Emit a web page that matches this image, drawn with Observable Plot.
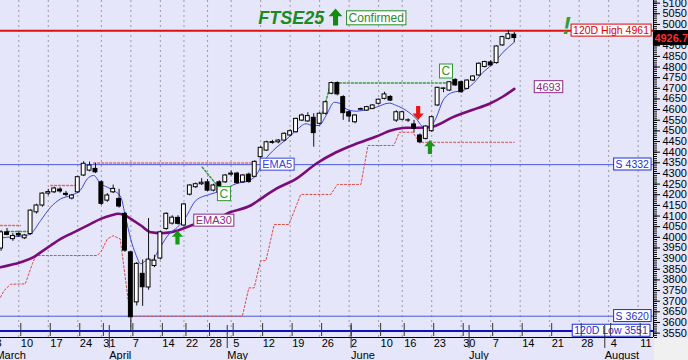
<!DOCTYPE html>
<html><head><meta charset="utf-8">
<script src="https://cdn.jsdelivr.net/npm/d3@7"></script>
<script src="https://cdn.jsdelivr.net/npm/@observablehq/plot@0.6"></script>
<style>
body{margin:0;background:#fff;}
#chart svg{display:block}
</style></head><body><div id="chart"></div>
<script>
// ---- data (day index, Mar 10 = 0) ----
const days = d3.range(-3, 85);
const opens = [
 3938,4014,3982,4006,3986,4006,4108,4140,4196,4202,
 4215,4195,4173,4202,4281,4304,4312,4249,4163,4202,
 4171,4101,3920,3685,3819,3755,3856,3891,4030,4055,
 4082,4046,4191,4226,4240,4249,4210,4249,4249,4285,
 4290,4249,4285,4275,4367,4398,4434,4437,4445,4469,
 4484,4539,4535,4552,4524,4571,4665,4715,4649,4578,
 4531,4590,4586,4594,4618,4641,4650,4539,4543,4539,
 4521,4469,4453,4489,4610,4688,4680,4730,4719,4688,
 4727,4751,4791,4812,4809,4892,4923,4942];
const highs = [
 4022,4032,4008,4016,4004,4120,4146,4200,4216,4226,
 4224,4206,4192,4278,4346,4344,4338,4256,4196,4236,
 4216,4108,3924,3872,3884,4079,3906,4020,4106,4092,
 4092,4150,4238,4246,4266,4262,4240,4256,4286,4302,
 4296,4286,4292,4350,4416,4442,4446,4450,4481,4496,
 4550,4570,4576,4571,4576,4630,4720,4721,4656,4586,
 4566,4598,4606,4614,4640,4672,4656,4585,4582,4548,
 4540,4476,4515,4560,4695,4692,4722,4735,4724,4730,
 4750,4810,4818,4820,4890,4935,4962,4952];
const lows = [
 3925,3998,3972,3990,3980,4000,4100,4132,4186,4196,
 4198,4180,4166,4196,4276,4298,4290,4140,4155,4196,
 4128,3920,3551,3668,3666,3742,3848,3884,4024,4048,
 4048,4040,4185,4220,4234,4205,4204,4196,4244,4278,
 4240,4244,4245,4270,4360,4394,4428,4430,4440,4464,
 4480,4534,4530,4414,4518,4565,4660,4655,4540,4531,
 4524,4586,4582,4590,4612,4636,4628,4530,4538,4530,
 4480,4430,4448,4484,4605,4670,4676,4700,4668,4684,
 4722,4746,4786,4794,4804,4888,4918,4905];
const closes = [
 4014,4002,3997,3999,3999,4116,4140,4196,4203,4220,
 4206,4190,4187,4273,4336,4328,4296,4148,4187,4218,
 4135,3928,3615,3866,3756,3886,3881,4014,4101,4083,
 4054,4145,4234,4240,4247,4210,4234,4202,4281,4290,
 4245,4281,4250,4345,4411,4437,4438,4445,4477,4489,
 4547,4563,4560,4480,4571,4625,4715,4662,4574,4558,
 4563,4593,4602,4610,4637,4662,4633,4578,4578,4540,
 4500,4437,4511,4555,4693,4690,4719,4704,4672,4727,
 4746,4806,4814,4798,4887,4931,4944,4926.72];

const ema5Idx = [-3.1,-1,1,2,3.7,5.4,7.1,8.8,10.5,11.6,12.7,13.9,15,16.1,17.3,18.1,19,19.8,20.7,21.5,22.6,23.8,25.5,26.9,28.3,30,32.3,34.5,36.8,39,40.2,41.5,43.6,45.3,47,48.7,49.8,50.9,52.1,53.5,54.3,55.5,57.2,58.9,60.6,62.8,64,65.7,67.4,68.5,69.6,70.8,71.9,73.6,75.3,77,78.7,80.4,82.1,84];
const ema5Val = [3988,3993,3998,4007,4069,4132,4171,4187,4214,4265,4281,4242,4226,4210,4179,4085,3980,3913,3866,3880,3884,3936,4007,4038,4085,4163,4192,4210,4242,4257,4281,4345,4411,4449,4492,4524,4516,4516,4563,4625,4621,4594,4583,4590,4602,4621,4610,4586,4547,4511,4508,4555,4633,4672,4680,4712,4766,4806,4860,4907];

const ema30Idx = [-3.1,0.3,2.5,3.7,5.4,7.1,8.8,10.5,12.2,13.9,15.6,16.9,18.1,19,20.7,22.4,24.1,25.8,26.9,29.2,30.9,33.4,35.8,39.3,41,43.6,47,50.4,53.8,57.2,60.6,63.1,65.7,67.9,70.2,73.6,77,79.8,82.1,84];
const ema30Val = [3850,3873,3897,3920,3952,3983,4007,4030,4054,4077,4093,4101,4093,4077,4046,4014,4010,4014,4022,4046,4061,4077,4108,4140,4171,4218,4265,4336,4390,4430,4464,4492,4505,4505,4511,4555,4590,4618,4652,4688];

const stopIdx = [-3.1,-2.5,-1.4,1.1,2.3,2.9,13.3,14,15,16,17.2,18.9,37.9,39,39.9,41,41.9,43.3,45.8,47.8,52.9,54,58,59.2,63.6,64.5,66.8,67.9,84];
const stopVal = [3709,3740,3770,3772,3866,3905,3905,3925,3983,3998,3983,3620,3620,3753,3753,3881,3881,4051,4051,4192,4192,4239,4239,4422,4422,4484,4484,4437,4437];

// resistance / confirmation annotations (segment id, day index, value)
const pinkSegId  = ["a","a","b","b","c","c"];
const pinkSegIdx = [-3.1,0.3,5.4,10,12.7,40.2];
const pinkSegVal = [4046,4046,4234,4234,4340,4340];
const greenSegId  = ["a","a","b","b","b","c","c"];
const greenSegIdx = [31.1,33.4,51.5,52.9,73.6,-1.9,1.5];
const greenSegVal = [4320,4242,4572,4715,4715,4018,4018];

const hLevels = [4961, 4332, 3620, 3551];

const priceTicks = d3.range(3550, 5101, 50);
const hiddenPriceLabels = [4950]; // covered by the last-price tag
const weekTickIdx = [-4.3,0,5,10,14,19,24,28,32,36,41,46,51,56,61,65,70,75,80,85,90,95,100,105];
const weekTickLabels = ["3","10","17","24","31","7","14","22","28","5","12","19","26","2","10","16","23","30","7","14","21","28","4","11"];
const monthTickIdx = [-4.3,15,35,56,76,99];
const monthLabels = ["March","April","May","June","July","August"];

// ---- build ----
const candles = days.map((d,k)=>({i:d,o:opens[k],h:highs[k],l:lows[k],c:closes[k]}));
const pts = (xs,ys,zs)=>xs.map((x,k)=>({i:x,v:ys[k],z:zs?zs[k]:null}));
const weekLab = new Map(weekTickIdx.map((t,k)=>[t,weekTickLabels[k]]));
const monthLab = new Map(monthTickIdx.map((t,k)=>[t,monthLabels[k]]));

const xDom = [-3.1, 107.6], yDom = [3520, 5103];

const arrowSym = dir => ({draw(ctx,size){
  const r = Math.sqrt(size/Math.PI), s = dir;
  ctx.moveTo(0,-r*s); ctx.lineTo(0.8*r,-0.1*r*s); ctx.lineTo(0.3*r,-0.1*r*s);
  ctx.lineTo(0.3*r,r*s); ctx.lineTo(-0.3*r,r*s); ctx.lineTo(-0.3*r,-0.1*r*s);
  ctx.lineTo(-0.8*r,-0.1*r*s); ctx.closePath();
}});

const boxLabels = [
  {t:"120D High 4961", i:100.4, v:4961, col:"#e00000", w:"bold", k:"bx-red"},
  {t:"S 4332", i:104.0, v:4332, col:"#1a2fd0", w:"bold", k:"bx-blue"},
  {t:"S 3620", i:104.0, v:3620, col:"#1a2fd0", w:"bold", k:"bx-blue"},
  {t:"120D Low 3551", i:100.4, v:3551, col:"#1a2fd0", w:"bold", k:"bx-blue"},
  {t:"EMA5", i:43.8, v:4332, col:"#3344dd", w:"normal", k:"bx-blue2"},
  {t:"4693", i:89.8, v:4696, col:"#8a2a8a", w:"normal", k:"bx-purple"},
  {t:"EMA30", i:33.06, v:4069, col:"#8a2a8a", w:"normal", k:"bx-purple"},
  {t:"C", i:34.75, v:4195, col:"#2a9a2a", w:"normal", k:"bx-green"},
  {t:"C", i:72.4, v:4771, col:"#2a9a2a", w:"normal", k:"bx-green"},
  {t:"Confirmed", i:60.6, v:5021, col:"#2a8a2a", w:"normal", k:"bx-green"}
];

const chart = Plot.plot({
  width: 688, height: 360,
  marginLeft: 0, marginRight: 35, marginTop: 0, marginBottom: 23,
  x: {domain: xDom, axis: null},
  y: {domain: yDom, axis: null},
  style: {background: "#e6e6fa", fontFamily: "'Liberation Sans', Arial, sans-serif", fontSize: "11px"},
  marks: [
    Plot.ruleX(weekTickIdx, {x: d=>d, stroke: "#9a9aa8", strokeDasharray: "2,3", strokeWidth: 1, clip: true}),
    Plot.ruleY(hLevels, {y: d=>d,
      stroke: d => d===4961 ? "#e01010" : d===3551 ? "#1010c0" : "#4a5ae0",
      strokeWidth: d => d===4961 ? 2 : d===3551 ? 2 : 1}),
    Plot.line(pts(pinkSegIdx,pinkSegVal,pinkSegId), {x:"i", y:"v", z:"z", stroke:"#e07070", strokeDasharray:"2,2", clip:true}),
    Plot.line(pts(greenSegIdx,greenSegVal,greenSegId), {x:"i", y:"v", z:"z", stroke:"#3a9a3a", strokeDasharray:"2,2", clip:true}),
    Plot.line(pts(stopIdx,stopVal), {x:"i", y:"v", stroke:"#e04848", strokeDasharray:"2,2", strokeWidth:1, clip:true}),
    Plot.line(pts(ema30Idx,ema30Val), {x:"i", y:"v", stroke:"#7a0c7a", strokeWidth:2.6, curve:"monotone-x", clip:true}),
    Plot.line(pts(ema5Idx,ema5Val), {x:"i", y:"v", stroke:"#3a48e0", strokeWidth:1, curve:"monotone-x", clip:true}),
    Plot.ruleX(candles, {x:"i", y1:"l", y2:"h", stroke:"#111", strokeWidth:1, clip:true}),
    Plot.rect(candles, {x1: d=>d.i-0.33, x2: d=>d.i+0.33, y1:"o", y2:"c",
      fill: d => d.c>=d.o ? "#ffffff" : "#000000", stroke:"#000", strokeWidth:1, clip:true}),
    Plot.dot([{i:26.9,v:3990},{i:69.7,v:4415}], {x:"i", y:"v", r:7, symbol: arrowSym(1), fill:"#169a16", stroke:"none"}),
    Plot.dot([{i:67.7,v:4575}], {x:"i", y:"v", r:7, symbol: arrowSym(-1), fill:"#e81818", stroke:"none"}),
    Plot.dot([{i:53.7,v:5025}], {x:"i", y:"v", r:8.5, symbol: arrowSym(1), fill:"#148a14", stroke:"none"}),
    Plot.text([{i:46.2,v:5021}], {x:"i", y:"v", text: ()=>"FTSE25", fontSize:18, fontWeight:"bold", fontStyle:"italic", fill:"#1c8a1c"}),
    Plot.text([{i:92.9,v:4981}], {x:"i", y:"v", text: ()=>"!", fontSize:24, fontWeight:"bold", fontStyle:"italic", fill:"#2ea02e"}),
    ...["bx-red","bx-blue","bx-blue2","bx-purple","bx-green"].map(k =>
      Plot.text(boxLabels.filter(b=>b.k===k), {x:"i", y:"v", text:"t", fill:"col", fontWeight: d=>d.w,
        fontSize: k==="bx-green" ? 12 : (k==="bx-red"||k==="bx-blue") ? 10.5 : 11, ariaDescription: k})),
    // right axis
    Plot.ruleX([xDom[1]], {stroke:"#000"}),
    Plot.axisY({anchor:"right", ticks: d3.range(3520, 5101, 10), tickSize: 3, tickFormat: () => "", stroke:"#000"}),
    Plot.axisY({anchor:"right", ticks: priceTicks, tickSize: 6, tickPadding: 3, dy: 2, fontSize: 11,
      tickFormat: d => hiddenPriceLabels.includes(d) ? "" : String(d), fill:"#000", stroke:"#000"}),
    // last price tag (drawn over the axis labels)
    Plot.text([{i:107.75, v:4926.72}], {x:"i", y:"v", text: ()=>"4926.72", textAnchor:"start", fill:"#ff2a2a", fontWeight:"bold", fontSize:11, ariaDescription:"bx-last"}),
    // bottom axis
    Plot.ruleY([yDom[0]], {stroke:"#000"}),
    Plot.axisX({anchor:"bottom", ticks: weekTickIdx, tickSize: 13, tickPadding: 3, dy: -14, dx: 2, textAnchor:"start",
      tickFormat: d => weekLab.get(d), fontSize: 11, fill:"#000", stroke:"#333"}),
    Plot.axisX({anchor:"bottom", ticks: monthTickIdx, tickSize: 23, tickPadding: 3, dy: -12, dx: 2, textAnchor:"start",
      tickFormat: d => monthLab.get(d), fontSize: 11, fill:"#000", stroke:"#333"})
  ]
});
document.getElementById("chart").append(chart);

// boxes behind labels
function boxify(key, bg, border, px, py){
  const nodes = chart.querySelectorAll(`g[aria-description="${key}"] text, text[aria-description="${key}"]`);
  nodes.forEach(function(node){
    const b = node.getBBox();
    const col = border || node.getAttribute("fill") || node.parentNode.getAttribute("fill");
    const r = document.createElementNS("http://www.w3.org/2000/svg","rect");
    r.setAttribute("x", b.x - px); r.setAttribute("y", b.y - py);
    r.setAttribute("width", b.width + 2*px); r.setAttribute("height", b.height + 2*py);
    r.setAttribute("fill", bg); r.setAttribute("stroke", col); r.setAttribute("stroke-width", 1);
    const tr = node.getAttribute("transform"); if (tr) r.setAttribute("transform", tr);
    node.parentNode.insertBefore(r, node);
  });
}
boxify("bx-red", "#ffffff", null, 2, 0);
boxify("bx-blue", "#ffffff", null, 2, 0);
boxify("bx-blue2", "#ffffff", null, 2, 0);
boxify("bx-purple", "#ffffff", null, 2, 0);
boxify("bx-green", "#ffffff", null, 2, 0);
boxify("bx-last", "#000000", "#000000", 1, 1);
// grey corner under the price axis
const corner = document.createElementNS("http://www.w3.org/2000/svg","rect");
corner.setAttribute("x", 654); corner.setAttribute("y", 338);
corner.setAttribute("width", 40); corner.setAttribute("height", 30);
corner.setAttribute("fill", "#f0f0f0");
chart.appendChild(corner);
</script></body></html>
